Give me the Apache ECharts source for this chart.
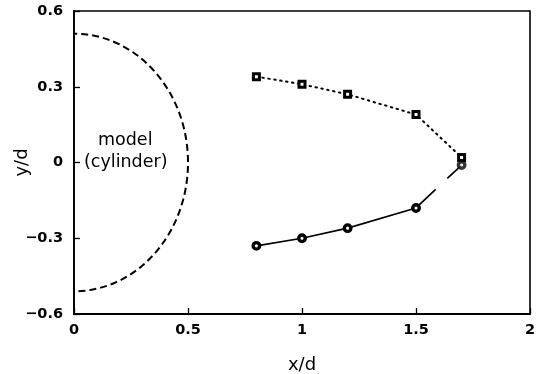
<!DOCTYPE html>
<html>
<head>
<meta charset="utf-8">
<script src="https://cdn.jsdelivr.net/npm/echarts@6/dist/echarts.min.js"></script>
<style>
  html, body { margin: 0; padding: 0; background: #fff; }
  #chart { width: 538px; height: 374px; }
</style>
</head>
<body>
<div id="chart"></div>
<script>
// Measurement stations along the wake, in units of model diameter d
const xValues = [0.8, 1.0, 1.2, 1.5, 1.7];
// upper boundary (squares, dotted) and lower boundary (circles, solid)
const upperY = [0.34, 0.31, 0.27, 0.19, 0.02];
const lowerY = [-0.33, -0.30, -0.26, -0.18, -0.01];
// model outline: centre x, centre y, half-width, half-height
const cylinder = [[0, 0, 0.5, 0.51]];
// axis ticks
const xTicks = [0, 0.5, 1, 1.5, 2];
const yTicks = [-0.6, -0.3, 0, 0.3, 0.6];

const upperPts = xValues.map((x, i) => [x, upperY[i]]);
const lowerPts = xValues.map((x, i) => [x, lowerY[i]]);
const n = xValues.length;

const font = 'DejaVu Sans';
const chart = echarts.init(document.getElementById('chart'), null, { renderer: 'canvas' });

chart.setOption({
  animation: false,
  backgroundColor: '#ffffff',
  grid: {
    left: 74, right: 8, top: 11, bottom: 60,
    outerBoundsMode: 'none', containLabel: false,
    show: true, borderColor: '#000', borderWidth: 1.6, backgroundColor: 'transparent'
  },
  xAxis: {
    type: 'value', min: xTicks[0], max: xTicks[xTicks.length - 1], interval: 0.5,
    name: 'x/d', nameLocation: 'middle', nameGap: 42, nameMoveOverlap: false,
    nameTextStyle: { fontFamily: font, fontSize: 18, color: '#000' },
    axisLine: { show: true, onZero: false, lineStyle: { color: '#000', width: 1.8 } },
    axisTick: { show: true, inside: true, length: 6, lineStyle: { color: '#000', width: 1.3 } },
    axisLabel: { fontFamily: font, fontWeight: 'bold', fontSize: 14.5, color: '#000', margin: 9,
      formatter: v => String(v) },
    splitLine: { show: false }
  },
  yAxis: {
    type: 'value', min: yTicks[0], max: yTicks[yTicks.length - 1], interval: 0.3,
    name: 'y/d', nameLocation: 'middle', nameGap: 43, nameRotate: 90, nameMoveOverlap: false,
    nameTextStyle: { fontFamily: font, fontSize: 18, color: '#000' },
    axisLine: { show: true, onZero: false, lineStyle: { color: '#000', width: 1.8 } },
    axisTick: { show: true, inside: true, length: 6, lineStyle: { color: '#000', width: 1.3 } },
    axisLabel: { fontFamily: font, fontWeight: 'bold', fontSize: 14.5, color: '#000', margin: 11,
      formatter: v => (Math.abs(v) < 1e-9 ? '0' : (v < 0 ? '\u2212' : '') + Math.abs(v).toFixed(1)) },
    splitLine: { show: false }
  },
  series: [
    {
      // half-section of the cylinder, dashed, clipped at x = 0
      type: 'custom',
      clip: true,
      data: cylinder,
      renderItem: function (params, api) {
        const c = api.coord([api.value(0), api.value(1)]);
        const rx = api.size([api.value(2), 0])[0];
        const ry = api.size([0, api.value(3)])[1];
        return {
          type: 'ellipse',
          shape: { cx: c[0], cy: c[1], rx: rx, ry: ry },
          style: { fill: 'none', stroke: '#000', lineWidth: 2, lineDash: [7, 4] }
        };
      },
      z: 1
    },
    {
      type: 'line',
      data: upperPts,
      symbol: 'rect', symbolSize: 6,
      itemStyle: { color: '#fff', borderColor: '#000', borderWidth: 3 },
      lineStyle: { color: '#000', width: 2, type: [1.5, 4.5], cap: 'round' },
      z: 3
    },
    {
      type: 'line',
      data: lowerPts.slice(0, n - 1),
      symbol: 'circle', symbolSize: 6.5,
      itemStyle: { color: '#fff', borderColor: '#000', borderWidth: 3.4 },
      lineStyle: { color: '#000', width: 1.7 },
      z: 3
    },
    {
      type: 'line',
      data: lowerPts.slice(n - 2),
      symbol: 'none',
      lineStyle: { color: '#000', width: 1.7, type: [27, 16] },
      z: 2
    },
    {
      type: 'scatter',
      data: lowerPts.slice(n - 1),
      symbol: 'circle', symbolSize: 6.5,
      itemStyle: { color: '#fff', borderColor: '#000', borderWidth: 3.4 },
      z: 4
    }
  ],
  graphic: [
    {
      type: 'text', left: 98, top: 131,
      style: { text: 'model', fontFamily: font, fontSize: 17.5, fill: '#000' }
    },
    {
      type: 'text', left: 84, top: 153,
      style: { text: '(cylinder)', fontFamily: font, fontSize: 17.5, fill: '#000' }
    }
  ]
});
</script>
</body>
</html>
